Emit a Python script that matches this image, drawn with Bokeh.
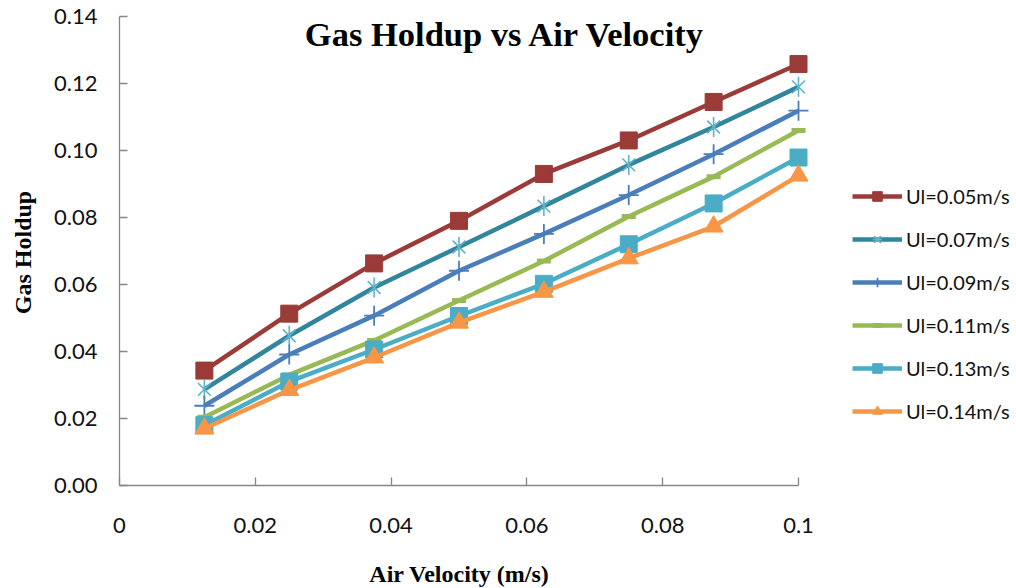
from bokeh.plotting import figure
from bokeh.models import Range1d, FixedTicker, Label, Legend, LegendItem
from bokeh.embed import file_html
from bokeh.resources import INLINE
import math

# ---- data ----
air_velocity = [0.0125, 0.025, 0.0375, 0.05, 0.0625, 0.075, 0.0875, 0.1]
ul_005 = [0.0343, 0.0513, 0.0663, 0.0790, 0.0930, 0.1030, 0.1145, 0.1258]
ul_007 = [0.0287, 0.0447, 0.0591, 0.0712, 0.0834, 0.0957, 0.1070, 0.1190]
ul_009 = [0.0238, 0.0391, 0.0507, 0.0641, 0.0751, 0.0867, 0.0989, 0.1119]
ul_011 = [0.0204, 0.0330, 0.0433, 0.0552, 0.0670, 0.0803, 0.0922, 0.1060]
ul_013 = [0.0180, 0.0310, 0.0406, 0.0506, 0.0602, 0.0720, 0.0842, 0.0979]
ul_014 = [0.0170, 0.0285, 0.0382, 0.0486, 0.0578, 0.0678, 0.0773, 0.0925]
series_labels = ["Ul=0.05m/s", "Ul=0.07m/s", "Ul=0.09m/s",
                 "Ul=0.11m/s", "Ul=0.13m/s", "Ul=0.14m/s"]
x_ticks = [0, 0.02, 0.04, 0.06, 0.08, 0.1]
x_tick_labels = ["0", "0.02", "0.04", "0.06", "0.08", "0.1"]
y_ticks = [0, 0.02, 0.04, 0.06, 0.08, 0.10, 0.12, 0.14]
y_tick_labels = ["0.00", "0.02", "0.04", "0.06", "0.08", "0.10", "0.12", "0.14"]
title_text = "Gas Holdup vs Air Velocity"
x_title = "Air Velocity (m/s)"
y_title = "Gas Holdup"

# ---- layout constants (pixels) ----
W, H = 1016, 588
X0_PX, X1_PX = 119, 798     # screen x of 0 and 0.1
Y0_PX, Y1_PX = 485, 16      # screen y of 0 and 0.14
sx = (X1_PX - X0_PX) / 0.1
sy = (Y0_PX - Y1_PX) / 0.14

# The frame covers the whole canvas; axes are pinned at data 0 with fixed_location
p = figure(width=W, height=H, output_backend="svg", toolbar_location=None,
           title=None, min_border=0, min_border_left=0, min_border_right=0,
           min_border_top=0, min_border_bottom=0)
p.x_range = Range1d(-X0_PX / sx, (W - X0_PX) / sx)
p.y_range = Range1d(-(H - Y0_PX) / sy, 0.14 + Y1_PX / sy)
p.outline_line_color = None
p.background_fill_color = "white"
p.border_fill_color = "white"
p.xgrid.visible = False
p.ygrid.visible = False

AX = "#868686"
TICKFONT = "Lato"
for ax in (p.xaxis[0], p.yaxis[0]):
    ax.fixed_location = 0
    ax.axis_line_color = AX
    ax.axis_line_width = 1.3
    ax.major_tick_line_color = AX
    ax.major_tick_line_width = 1.3
    ax.major_tick_in = 8
    ax.major_tick_out = 0
    ax.minor_tick_line_color = None
    ax.major_label_text_font = TICKFONT
    ax.major_label_text_font_size = "22px"
    ax.major_label_text_color = "#111111"

p.xaxis.ticker = FixedTicker(ticks=x_ticks)
p.xaxis.major_label_overrides = {t: l for t, l in zip(x_ticks, x_tick_labels)}
p.xaxis.bounds = (0, 0.1)
p.xaxis.major_label_standoff = 32

p.yaxis.ticker = FixedTicker(ticks=y_ticks)
p.yaxis.major_label_overrides = {t: l for t, l in zip(y_ticks, y_tick_labels)}
p.yaxis.bounds = (0, 0.14)
p.yaxis.major_label_standoff = 22

# ---- series ----
series = [ul_005, ul_007, ul_009, ul_011, ul_013, ul_014]
line_colors = ["#9A3B38", "#31859C", "#4A7EBB", "#98B954", "#4BACC6", "#F79646"]
LW = 4.5
items = []
for i, (vals, lab, lc) in enumerate(zip(series, series_labels, line_colors)):
    rs = [p.line(air_velocity, vals, line_color=lc, line_width=LW, line_join="round")]
    if i == 0:
        rs.append(p.scatter(air_velocity, vals, marker="square", size=17,
                            fill_color="#9A3B38", line_color="#9A3B38"))
    elif i == 1:
        rs.append(p.scatter(air_velocity, vals, marker="x", size=18,
                            line_color="#5FB3C8", line_width=1.6))
        rs.append(p.scatter(air_velocity, vals, marker="dash", size=20, angle=math.pi / 2,
                            line_color="#5FB3C8", line_width=1.6))
    elif i == 2:
        rs.append(p.scatter(air_velocity, vals, marker="cross", size=20,
                            line_color="#4A7EBB", line_width=1.8))
    elif i == 3:
        rs.append(p.scatter(air_velocity, vals, marker="dash", size=14,
                            line_color="#98B954", line_width=5))
    elif i == 4:
        rs.append(p.scatter(air_velocity, vals, marker="square", size=17,
                            fill_color="#4BACC6", line_color="#4BACC6"))
    else:
        rs.append(p.scatter(air_velocity, vals, marker="triangle", size=19,
                            fill_color="#F79646", line_color="#F79646"))
    items.append(LegendItem(label=lab, renderers=rs))

legend = Legend(items=items, location=(852, 165), orientation="vertical",
                border_line_color=None, background_fill_alpha=0,
                padding=0, margin=0, spacing=19, label_height=24, glyph_height=24,
                glyph_width=50, label_standoff=4,
                label_text_font=TICKFONT, label_text_font_size="20px",
                label_text_color="#111111")
p.add_layout(legend)

# ---- titles ----
p.add_layout(Label(x=505, y=H - 33, x_units="screen", y_units="screen",
                   text=title_text, text_align="center", text_baseline="middle",
                   text_font="Liberation Serif", text_font_style="bold",
                   text_font_size="34.5px", text_color="black"))
p.add_layout(Label(x=459, y=H - 573, x_units="screen", y_units="screen",
                   text=x_title, text_align="center", text_baseline="middle",
                   text_font="Liberation Serif", text_font_style="bold",
                   text_font_size="24px", text_color="black"))
p.add_layout(Label(x=22, y=H - 252, x_units="screen", y_units="screen",
                   text=y_title, text_align="center", text_baseline="middle",
                   angle=math.pi / 2,
                   text_font="Liberation Serif", text_font_style="bold",
                   text_font_size="24px", text_color="black"))

open("out.html", "w").write(file_html(p, INLINE))
